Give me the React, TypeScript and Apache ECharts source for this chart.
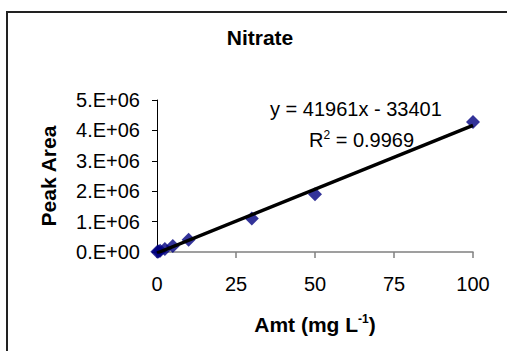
import React, { useEffect, useRef } from "react";
import * as echarts from "echarts";

// Nitrate calibration: concentration (mg/L) vs. peak area
const amounts = [0.1, 0.5, 1, 2.5, 5, 10, 30, 50, 100];
const peakAreas = [5000, 20000, 45000, 100000, 200000, 400000, 1100000, 1900000, 4280000];

// Linear fit reported on the chart
const slope = 41961;
const intercept = -33401;
const rSquared = 0.9969;
const fitRange = [0, 100];

const xTicks = [0, 25, 50, 75, 100];
const yTickLabels = ["0.E+00", "1.E+06", "2.E+06", "3.E+06", "4.E+06", "5.E+06"];

const FONT = "Arial, 'Liberation Sans', sans-serif";

export default function App() {
  const ref = useRef<HTMLDivElement>(null);

  useEffect(() => {
    if (!ref.current) return;
    const chart = echarts.init(ref.current, null, { renderer: "svg" });

    const points = amounts.map((a, i) => [a, peakAreas[i]]);
    const fitLine = fitRange.map((x) => [x, slope * x + intercept]);

    chart.setOption({
      animation: false,
      backgroundColor: "#ffffff",
      graphic: [
        {
          type: "rect",
          shape: { x: 7, y: 12, width: 520, height: 360 },
          style: { fill: "none", stroke: "#222", lineWidth: 2 },
          silent: true,
        },
        {
          type: "text",
          x: 260,
          y: 37,
          style: {
            text: "Nitrate",
            fontFamily: FONT,
            fontSize: 21,
            fontWeight: "bold",
            fill: "#000",
            align: "center",
            verticalAlign: "middle",
          },
        },
        {
          type: "text",
          x: 270,
          y: 109,
          style: {
            text: `y = ${slope}x - ${Math.abs(intercept)}`,
            fontFamily: FONT,
            fontSize: 20,
            fill: "#000",
            verticalAlign: "middle",
          },
        },
        {
          type: "text",
          x: 309,
          y: 140,
          style: {
            text: `{n|R}{s|2}{n| = ${rSquared}}`,
            verticalAlign: "middle",
            rich: {
              n: { fontFamily: FONT, fontSize: 20, fill: "#000", color: "#000" },
              s: { fontFamily: FONT, fontSize: 12, color: "#000", verticalAlign: "top", padding: [0, 0, 10, 0] },
            },
          },
        },
      ],
      grid: { left: 157, right: 34, top: 100, bottom: 99 },
      xAxis: {
        type: "value",
        min: 0,
        max: 100,
        interval: 25,
        name: "{n|Amt (mg L}{s|-1}{n|)}",
        nameLocation: "middle",
        nameGap: 61,
        nameTextStyle: {
          rich: {
            n: { fontFamily: FONT, fontSize: 21, fontWeight: "bold", color: "#000" },
            s: { fontFamily: FONT, fontSize: 12, fontWeight: "bold", color: "#000", verticalAlign: "top", padding: [0, 0, 11, 0] },
          },
        },
        splitLine: { show: false },
        axisLine: { show: true, lineStyle: { color: "#808080", width: 1.5 } },
        axisTick: { show: true, length: 6, lineStyle: { color: "#808080", width: 1.5 } },
        axisLabel: {
          margin: 22,
          fontFamily: FONT,
          fontSize: 20,
          color: "#000",
          formatter: (v: number) => (xTicks.includes(v) ? String(v) : ""),
        },
      },
      yAxis: {
        type: "value",
        min: 0,
        max: 5000000,
        interval: 1000000,
        name: "Peak Area",
        nameLocation: "middle",
        nameGap: 98,
        nameRotate: 90,
        nameTextStyle: { fontFamily: FONT, fontSize: 21, fontWeight: "bold", color: "#000" },
        splitLine: { show: false },
        axisLine: { show: true, lineStyle: { color: "#000", width: 1 } },
        axisTick: { show: true, length: 5, lineStyle: { color: "#000", width: 1 } },
        axisLabel: {
          margin: 17,
          fontFamily: FONT,
          fontSize: 20,
          color: "#000",
          formatter: (v: number) => yTickLabels[Math.round(v / 1000000)] ?? "",
        },
      },
      series: [
        {
          type: "scatter",
          data: points,
          symbol: "diamond",
          symbolSize: 14,
          itemStyle: { color: "#000080" },
          z: 2,
        },
        {
          type: "line",
          data: fitLine,
          showSymbol: false,
          symbol: "none",
          lineStyle: { color: "#000", width: 3.5 },
          z: 3,
        },
      ],
    });

    return () => chart.dispose();
  }, []);

  return (
    <div
      ref={ref}
      style={{ position: "fixed", left: 0, top: 0, width: 507, height: 351 }}
    />
  );
}
